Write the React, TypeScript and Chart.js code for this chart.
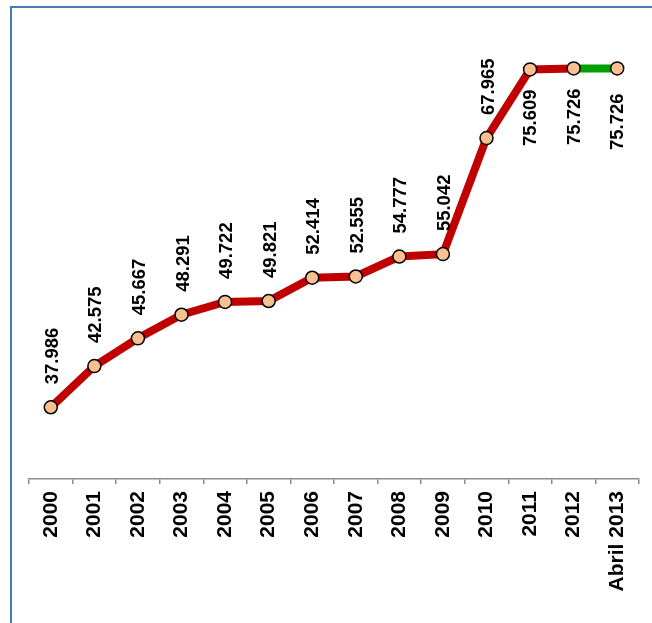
import React, { useEffect, useRef } from "react";
import { Chart, registerables } from "chart.js";

Chart.register(...registerables);

const categories = [
  "2000", "2001", "2002", "2003", "2004", "2005", "2006",
  "2007", "2008", "2009", "2010", "2011", "2012", "Abril 2013",
];
const values = [
  37.986, 42.575, 45.667, 48.291, 49.722, 49.821, 52.414,
  52.555, 54.777, 55.042, 67.965, 75.609, 75.726, 75.726,
];
// labels drawn below the point for these indices
const labelsBelowFrom = 11;
// last segment (partial year) drawn in green
const partialFrom = 12;

const RED = "#C00000";
const GREEN = "#00A000";

const framePlugin = {
  id: "frame",
  beforeDraw(chart: any) {
    const ctx = chart.ctx;
    ctx.save();
    ctx.fillStyle = "#ffffff";
    ctx.fillRect(0, 0, chart.width, chart.height);
    ctx.strokeStyle = "#4A78B4";
    ctx.lineWidth = 2;
    ctx.strokeRect(11, 7, 2000, 2000);
    ctx.restore();
  },
};

const valueLabelPlugin = {
  id: "valueLabels",
  afterDatasetsDraw(chart: any) {
    const ctx = chart.ctx;
    const meta = chart.getDatasetMeta(0);
    ctx.save();
    ctx.fillStyle = "#000000";
    ctx.font = "bold 18.5px 'Liberation Sans', Arial, sans-serif";
    ctx.textBaseline = "middle";
    meta.data.forEach((pt: any, i: number) => {
      const txt = values[i].toFixed(3);
      ctx.save();
      if (i >= labelsBelowFrom) {
        const extra = i === values.length - 1 ? 5 : 0;
        ctx.translate(pt.x + 1, pt.y + 20 + extra);
        ctx.rotate(-Math.PI / 2);
        ctx.textAlign = "right";
      } else {
        ctx.translate(pt.x + 2, pt.y - 23);
        ctx.rotate(-Math.PI / 2);
        ctx.textAlign = "left";
      }
      ctx.fillText(txt, 0, 0);
      ctx.restore();
    });
    ctx.restore();
  },
};

export default function App() {
  const ref = useRef<HTMLCanvasElement | null>(null);

  useEffect(() => {
    if (!ref.current) return;
    const chart = new Chart(ref.current, {
      type: "line",
      data: {
        labels: categories,
        datasets: [
          {
            data: values,
            borderColor: RED,
            borderWidth: 8,
            tension: 0,
            segment: {
              borderColor: (c: any) => (c.p0DataIndex >= partialFrom ? GREEN : RED),
            },
            pointRadius: 6.5,
            pointHoverRadius: 6.5,
            pointBackgroundColor: "#FAC090",
            pointBorderColor: "#000000",
            pointBorderWidth: 1.5,
          },
        ],
      },
      options: {
        responsive: false,
        animation: false,
        devicePixelRatio: 1,
        layout: { padding: { left: 29, right: 13, top: 30, bottom: 0 } },
        plugins: {
          legend: { display: false },
          tooltip: { enabled: false },
          title: { display: false },
        },
        scales: {
          x: {
            type: "category",
            offset: true,
            grid: {
              offset: true,
              drawOnChartArea: false,
              drawTicks: true,
              tickLength: 5,
              color: "#8C8C8C",
              lineWidth: 1.5,
            },
            border: { display: true, color: "#8C8C8C", width: 1.5 },
            ticks: {
              minRotation: 90,
              maxRotation: 90,
              padding: 7,
              color: "#000000",
              autoSkip: false,
              font: { family: "'Liberation Sans', Arial, sans-serif", size: 21, weight: "bold" },
            },
            afterFit(scale: any) {
              scale.height = 144;
            },
          },
          y: {
            display: false,
            min: 30,
            max: 80,
          },
        },
      },
      plugins: [framePlugin, valueLabelPlugin],
    });
    return () => chart.destroy();
  }, []);

  return (
    <div style={{ position: "fixed", left: 0, top: 0, width: 652, height: 623 }}>
      <canvas ref={ref} width={652} height={623} style={{ display: "block" }} />
    </div>
  );
}
